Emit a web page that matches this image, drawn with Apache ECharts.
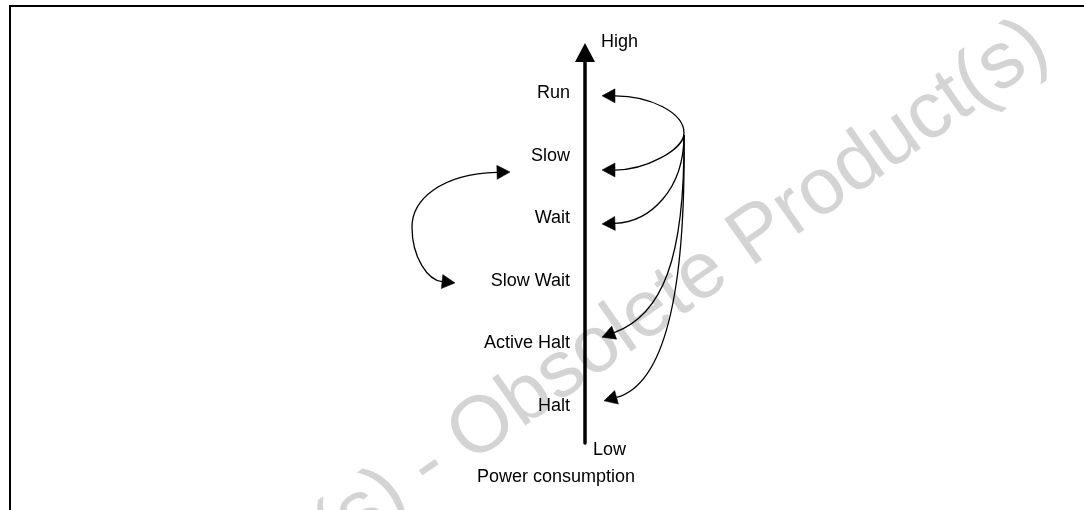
<!DOCTYPE html>
<html>
<head>
<meta charset="utf-8">
<script src="https://cdn.jsdelivr.net/npm/echarts@6.0.0/dist/echarts.min.js"></script>
<style>
html,body{margin:0;padding:0;background:#fff;}
#chart{width:1084px;height:510px;}
</style>
</head>
<body>
<div id="chart"></div>
<script>
// ---- data ----
const modes = ['Halt', 'Active Halt', 'Slow Wait', 'Wait', 'Slow', 'Run'];
const powerLevels = [9.5, 25.5, 41.5, 57.5, 73.5, 89.5];   // relative power (0 = Low, 100 = High)
const axisEndLabels = ['High', 'Low'];
const axisTitle = 'Power consumption';
const watermarkText = 'Obsolete Product(s) - Obsolete Product(s)';

// transitions: [x offset from the power axis, power level]
const transitionNames = ['to Run', 'to Slow', 'to Wait', 'to Active Halt', 'to Halt', 'to Slow', 'to Slow Wait'];
const transitionFrom  = [[99, 79.4], [99, 79.4], [99, 78.9], [99, 78.9], [99, 78.9], [-173, 55.3], [-173, 55.3]];
const transitionCtrl1 = [[99, 84.6], [99, 75.0], [99, 64.8], [100, 46.9], [101, 36.6], [-173, 62.2], [-173, 47.4]];
const transitionCtrl2 = [[65, 88.9], [60, 69.9], [65, 56.6], [77, 32.8], [77, 14.9], [-145, 68.9], [-157, 41.7]];
const transitionTo    = [[17, 88.9], [17, 69.9], [17, 56.1], [17, 27.1], [19, 10.8], [-75, 69.4], [-130, 41.0]];

const FONT = '"Liberation Sans", Arial, Helvetica, sans-serif';
const chart = echarts.init(document.getElementById('chart'), null, {renderer: 'canvas'});

function renderTransition(params, api) {
  const i = params.dataIndex;
  const p0 = api.coord(transitionFrom[i]);
  const p1 = api.coord(transitionCtrl1[i]);
  const p2 = api.coord(transitionCtrl2[i]);
  const tip = api.coord(transitionTo[i]);
  let dx = tip[0] - p2[0], dy = tip[1] - p2[1];
  const len = Math.sqrt(dx * dx + dy * dy) || 1;
  dx /= len; dy /= len;
  const L = 13, W = 7;
  const base = [tip[0] - dx * L, tip[1] - dy * L];
  const nx = -dy, ny = dx;
  return {
    type: 'group',
    children: [
      {
        type: 'bezierCurve',
        shape: {x1: p0[0], y1: p0[1], cpx1: p1[0], cpy1: p1[1], cpx2: p2[0], cpy2: p2[1], x2: base[0], y2: base[1]},
        style: {stroke: '#000', fill: null, lineWidth: 1.3}
      },
      {
        type: 'polygon',
        shape: {points: [tip, [base[0] + nx * W, base[1] + ny * W], [base[0] - nx * W, base[1] - ny * W]]},
        style: {fill: '#000', stroke: '#000', lineWidth: 0.5}
      }
    ]
  };
}

// captions under the axis start ("Low" and the axis title)
const captionStyles = [
  {text: axisEndLabels[1], dx: 8, dy: 7, align: 'left'},
  {text: axisTitle, dx: -29, dy: 34, align: 'center'}
];
function renderCaption(params, api) {
  const c = captionStyles[params.dataIndex];
  const p = api.coord([api.value(0), api.value(1)]);
  return {
    type: 'text', x: p[0] + c.dx, y: p[1] + c.dy,
    style: {text: c.text, fill: '#000', font: '18px ' + FONT, align: c.align, verticalAlign: 'middle'}
  };
}

const option = {
  animation: false,
  backgroundColor: '#fff',
  graphic: [
    {
      type: 'text', x: 1040, y: 38, rotation: 35 * Math.PI / 180, z: -10, silent: true,
      style: {text: watermarkText, fill: '#d4d4d4', font: '80px ' + FONT, align: 'right', verticalAlign: 'middle'}
    },
    {
      type: 'polyline', z: 10, silent: true,
      shape: {points: [[10, 512], [10, 6], [1090, 6]]},
      style: {stroke: '#000', lineWidth: 2, fill: null}
    }
  ],
  grid: {left: 585, right: 0, top: 52.5, bottom: 67, containLabel: false, outerBoundsMode: 'none'},
  xAxis: {type: 'value', min: 0, max: 499, show: false},
  yAxis: {
    type: 'value', min: 0, max: 100, position: 'left',
    name: axisEndLabels[0], nameLocation: 'end', nameGap: 10.5,
    nameTextStyle: {fontFamily: FONT, fontSize: 18, color: '#000', align: 'left', verticalAlign: 'middle', padding: [0, 0, 0, 16]},
    axisLine: {show: true, onZero: false, symbol: ['none', 'triangle'], symbolSize: [20, 19],
      lineStyle: {color: '#000', width: 3.5}},
    axisTick: {show: false},
    splitLine: {show: false},
    axisLabel: {
      show: true, customValues: powerLevels, margin: 15,
      fontFamily: FONT, fontSize: 18, color: '#000',
      formatter: function (v) { const k = powerLevels.indexOf(v); return k >= 0 ? modes[k] : ''; }
    }
  },
  series: [
    {
      type: 'custom', name: 'transitions', coordinateSystem: 'cartesian2d',
      clip: false, silent: true,
      data: transitionTo.map((p, i) => ({name: transitionNames[i], value: p})),
      renderItem: renderTransition, z: 5
    },
    {
      type: 'custom', name: 'captions', coordinateSystem: 'cartesian2d',
      clip: false, silent: true,
      data: [[0, 0], [0, 0]],
      renderItem: renderCaption, z: 5
    }
  ]
};
chart.setOption(option);
</script>
</body>
</html>
